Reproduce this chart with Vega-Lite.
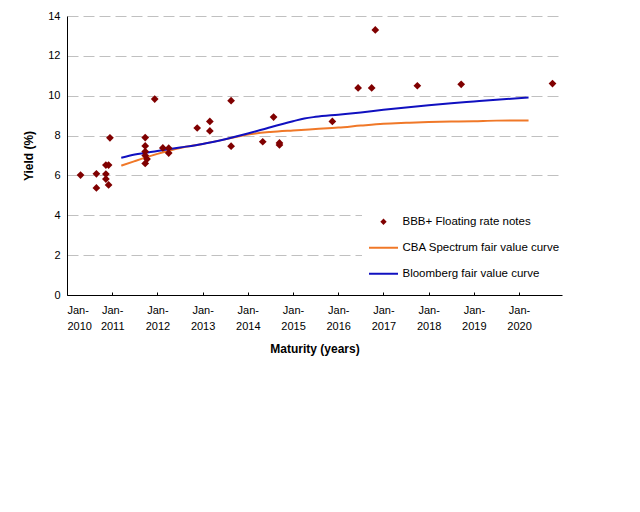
{
  "$schema": "https://vega.github.io/schema/vega-lite/v6.json",
  "width": 495,
  "height": 279,
  "autosize": {"type": "none"},
  "padding": {"left": 67, "top": 16, "right": 78, "bottom": 217},
  "background": "white",
  "config": {
    "view": {"stroke": null},
    "font": "Liberation Sans",
    "axis": {"labelFont": "Liberation Sans", "titleFont": "Liberation Sans", "labelColor": "black", "titleColor": "black"}
  },
  "data": {
    "values": [
      {"series": "BBB+ Floating rate notes", "maturity": 2010.30, "yield": 6.02},
      {"series": "BBB+ Floating rate notes", "maturity": 2010.65, "yield": 6.08},
      {"series": "BBB+ Floating rate notes", "maturity": 2010.65, "yield": 5.37},
      {"series": "BBB+ Floating rate notes", "maturity": 2010.86, "yield": 6.07},
      {"series": "BBB+ Floating rate notes", "maturity": 2010.86, "yield": 5.82},
      {"series": "BBB+ Floating rate notes", "maturity": 2010.86, "yield": 6.52},
      {"series": "BBB+ Floating rate notes", "maturity": 2010.92, "yield": 6.52},
      {"series": "BBB+ Floating rate notes", "maturity": 2010.92, "yield": 5.52},
      {"series": "BBB+ Floating rate notes", "maturity": 2010.95, "yield": 7.89},
      {"series": "BBB+ Floating rate notes", "maturity": 2011.73, "yield": 7.90},
      {"series": "BBB+ Floating rate notes", "maturity": 2011.73, "yield": 7.48},
      {"series": "BBB+ Floating rate notes", "maturity": 2011.73, "yield": 7.20},
      {"series": "BBB+ Floating rate notes", "maturity": 2011.73, "yield": 7.00},
      {"series": "BBB+ Floating rate notes", "maturity": 2011.73, "yield": 6.60},
      {"series": "BBB+ Floating rate notes", "maturity": 2011.77, "yield": 6.82},
      {"series": "BBB+ Floating rate notes", "maturity": 2011.94, "yield": 9.83},
      {"series": "BBB+ Floating rate notes", "maturity": 2012.12, "yield": 7.38},
      {"series": "BBB+ Floating rate notes", "maturity": 2012.25, "yield": 7.37},
      {"series": "BBB+ Floating rate notes", "maturity": 2012.25, "yield": 7.12},
      {"series": "BBB+ Floating rate notes", "maturity": 2012.88, "yield": 8.38},
      {"series": "BBB+ Floating rate notes", "maturity": 2013.16, "yield": 8.71},
      {"series": "BBB+ Floating rate notes", "maturity": 2013.16, "yield": 8.23},
      {"series": "BBB+ Floating rate notes", "maturity": 2013.63, "yield": 9.75},
      {"series": "BBB+ Floating rate notes", "maturity": 2013.63, "yield": 7.47},
      {"series": "BBB+ Floating rate notes", "maturity": 2014.33, "yield": 7.69},
      {"series": "BBB+ Floating rate notes", "maturity": 2014.57, "yield": 8.93},
      {"series": "BBB+ Floating rate notes", "maturity": 2014.70, "yield": 7.63},
      {"series": "BBB+ Floating rate notes", "maturity": 2014.70, "yield": 7.53},
      {"series": "BBB+ Floating rate notes", "maturity": 2015.87, "yield": 8.71},
      {"series": "BBB+ Floating rate notes", "maturity": 2016.44, "yield": 10.39},
      {"series": "BBB+ Floating rate notes", "maturity": 2016.74, "yield": 10.39},
      {"series": "BBB+ Floating rate notes", "maturity": 2016.82, "yield": 13.30},
      {"series": "BBB+ Floating rate notes", "maturity": 2017.75, "yield": 10.50},
      {"series": "BBB+ Floating rate notes", "maturity": 2018.72, "yield": 10.57},
      {"series": "BBB+ Floating rate notes", "maturity": 2020.74, "yield": 10.61},

      {"series": "CBA Spectrum fair value curve", "maturity": 2011.20, "yield": 6.49},
      {"series": "CBA Spectrum fair value curve", "maturity": 2011.50, "yield": 6.72},
      {"series": "CBA Spectrum fair value curve", "maturity": 2012.00, "yield": 7.08},
      {"series": "CBA Spectrum fair value curve", "maturity": 2012.50, "yield": 7.38},
      {"series": "CBA Spectrum fair value curve", "maturity": 2013.00, "yield": 7.58},
      {"series": "CBA Spectrum fair value curve", "maturity": 2013.50, "yield": 7.81},
      {"series": "CBA Spectrum fair value curve", "maturity": 2014.00, "yield": 8.05},
      {"series": "CBA Spectrum fair value curve", "maturity": 2014.50, "yield": 8.18},
      {"series": "CBA Spectrum fair value curve", "maturity": 2015.00, "yield": 8.26},
      {"series": "CBA Spectrum fair value curve", "maturity": 2015.50, "yield": 8.33},
      {"series": "CBA Spectrum fair value curve", "maturity": 2016.00, "yield": 8.40},
      {"series": "CBA Spectrum fair value curve", "maturity": 2016.50, "yield": 8.50},
      {"series": "CBA Spectrum fair value curve", "maturity": 2017.00, "yield": 8.59},
      {"series": "CBA Spectrum fair value curve", "maturity": 2017.50, "yield": 8.64},
      {"series": "CBA Spectrum fair value curve", "maturity": 2018.00, "yield": 8.68},
      {"series": "CBA Spectrum fair value curve", "maturity": 2018.50, "yield": 8.70},
      {"series": "CBA Spectrum fair value curve", "maturity": 2019.00, "yield": 8.72},
      {"series": "CBA Spectrum fair value curve", "maturity": 2019.50, "yield": 8.75},
      {"series": "CBA Spectrum fair value curve", "maturity": 2020.21, "yield": 8.76},

      {"series": "Bloomberg fair value curve", "maturity": 2011.20, "yield": 6.89},
      {"series": "Bloomberg fair value curve", "maturity": 2011.50, "yield": 7.05},
      {"series": "Bloomberg fair value curve", "maturity": 2012.00, "yield": 7.23},
      {"series": "Bloomberg fair value curve", "maturity": 2012.50, "yield": 7.40},
      {"series": "Bloomberg fair value curve", "maturity": 2013.00, "yield": 7.58},
      {"series": "Bloomberg fair value curve", "maturity": 2013.50, "yield": 7.82},
      {"series": "Bloomberg fair value curve", "maturity": 2014.00, "yield": 8.10},
      {"series": "Bloomberg fair value curve", "maturity": 2014.50, "yield": 8.42},
      {"series": "Bloomberg fair value curve", "maturity": 2015.00, "yield": 8.72},
      {"series": "Bloomberg fair value curve", "maturity": 2015.25, "yield": 8.86},
      {"series": "Bloomberg fair value curve", "maturity": 2015.50, "yield": 8.94},
      {"series": "Bloomberg fair value curve", "maturity": 2016.00, "yield": 9.05},
      {"series": "Bloomberg fair value curve", "maturity": 2016.50, "yield": 9.16},
      {"series": "Bloomberg fair value curve", "maturity": 2017.00, "yield": 9.29},
      {"series": "Bloomberg fair value curve", "maturity": 2017.50, "yield": 9.41},
      {"series": "Bloomberg fair value curve", "maturity": 2018.00, "yield": 9.52},
      {"series": "Bloomberg fair value curve", "maturity": 2018.50, "yield": 9.62},
      {"series": "Bloomberg fair value curve", "maturity": 2019.00, "yield": 9.71},
      {"series": "Bloomberg fair value curve", "maturity": 2019.50, "yield": 9.80},
      {"series": "Bloomberg fair value curve", "maturity": 2020.21, "yield": 9.91}
    ]
  },
  "encoding": {
    "x": {
      "field": "maturity",
      "type": "quantitative",
      "scale": {"domain": [2010, 2020.95], "nice": false, "zero": false},
      "axis": {
        "title": "Maturity (years)",
        "titleFontSize": 12,
        "titleFontWeight": "bold",
        "titlePadding": 12,
        "values": [2010, 2011, 2012, 2013, 2014, 2015, 2016, 2017, 2018, 2019, 2020],
        "labelExpr": "['Jan-', format(datum.value, 'd')]",
        "labelFontSize": 11,
        "labelLineHeight": 16,
        "labelPadding": 12,
        "labelOverlap": false,
        "grid": false,
        "domainColor": "black",
        "tickColor": "black",
        "tickSize": -3
      }
    },
    "y": {
      "field": "yield",
      "type": "quantitative",
      "scale": {"domain": [0, 14], "nice": false},
      "axis": {
        "title": "Yield (%)",
        "titleFontSize": 12,
        "titleFontWeight": "bold",
        "titlePadding": 12,
        "values": [0, 2, 4, 6, 8, 10, 12, 14],
        "labelFontSize": 11,
        "labelPadding": 7,
        "ticks": false,
        "grid": true,
        "gridColor": "#C0C0C0",
        "gridDash": [11, 5],
        "domainColor": "black"
      }
    },
    "color": {
      "field": "series",
      "type": "nominal",
      "scale": {
        "domain": ["BBB+ Floating rate notes", "CBA Spectrum fair value curve", "Bloomberg fair value curve"],
        "range": ["#800000", "#F07828", "#1010C0"]
      },
      "legend": {
        "title": null,
        "orient": "none",
        "legendX": 295,
        "legendY": 193,
        "fillColor": "white",
        "padding": 7,
        "symbolSize": 841,
        "labelFont": "Liberation Sans",
        "labelFontSize": 11.5,
        "labelColor": "black",
        "labelOffset": 22,
        "rowPadding": 13,
        "encode": {
          "symbols": {
            "update": {
              "x": {"value": 14.5},
              "shape": {"signal": "datum.value === 'BBB+ Floating rate notes' ? 'diamond' : 'stroke'"},
              "size": {"signal": "datum.value === 'BBB+ Floating rate notes' ? 40 : 841"},
              "fill": {"scale": "color", "field": "value"},
              "stroke": {"scale": "color", "field": "value"},
              "strokeWidth": {"signal": "datum.value === 'BBB+ Floating rate notes' ? 0 : 2"},
              "opacity": {"value": 1},
              "fillOpacity": {"value": 1}
            }
          }
        }
      }
    }
  },
  "layer": [
    {
      "transform": [{"filter": "datum.series !== 'BBB+ Floating rate notes'"}],
      "mark": {"type": "line", "strokeWidth": 2, "interpolate": "monotone"}
    },
    {
      "transform": [{"filter": "datum.series === 'BBB+ Floating rate notes'"}],
      "mark": {"type": "point", "shape": "diamond", "filled": true, "size": 60, "opacity": 1}
    }
  ]
}
